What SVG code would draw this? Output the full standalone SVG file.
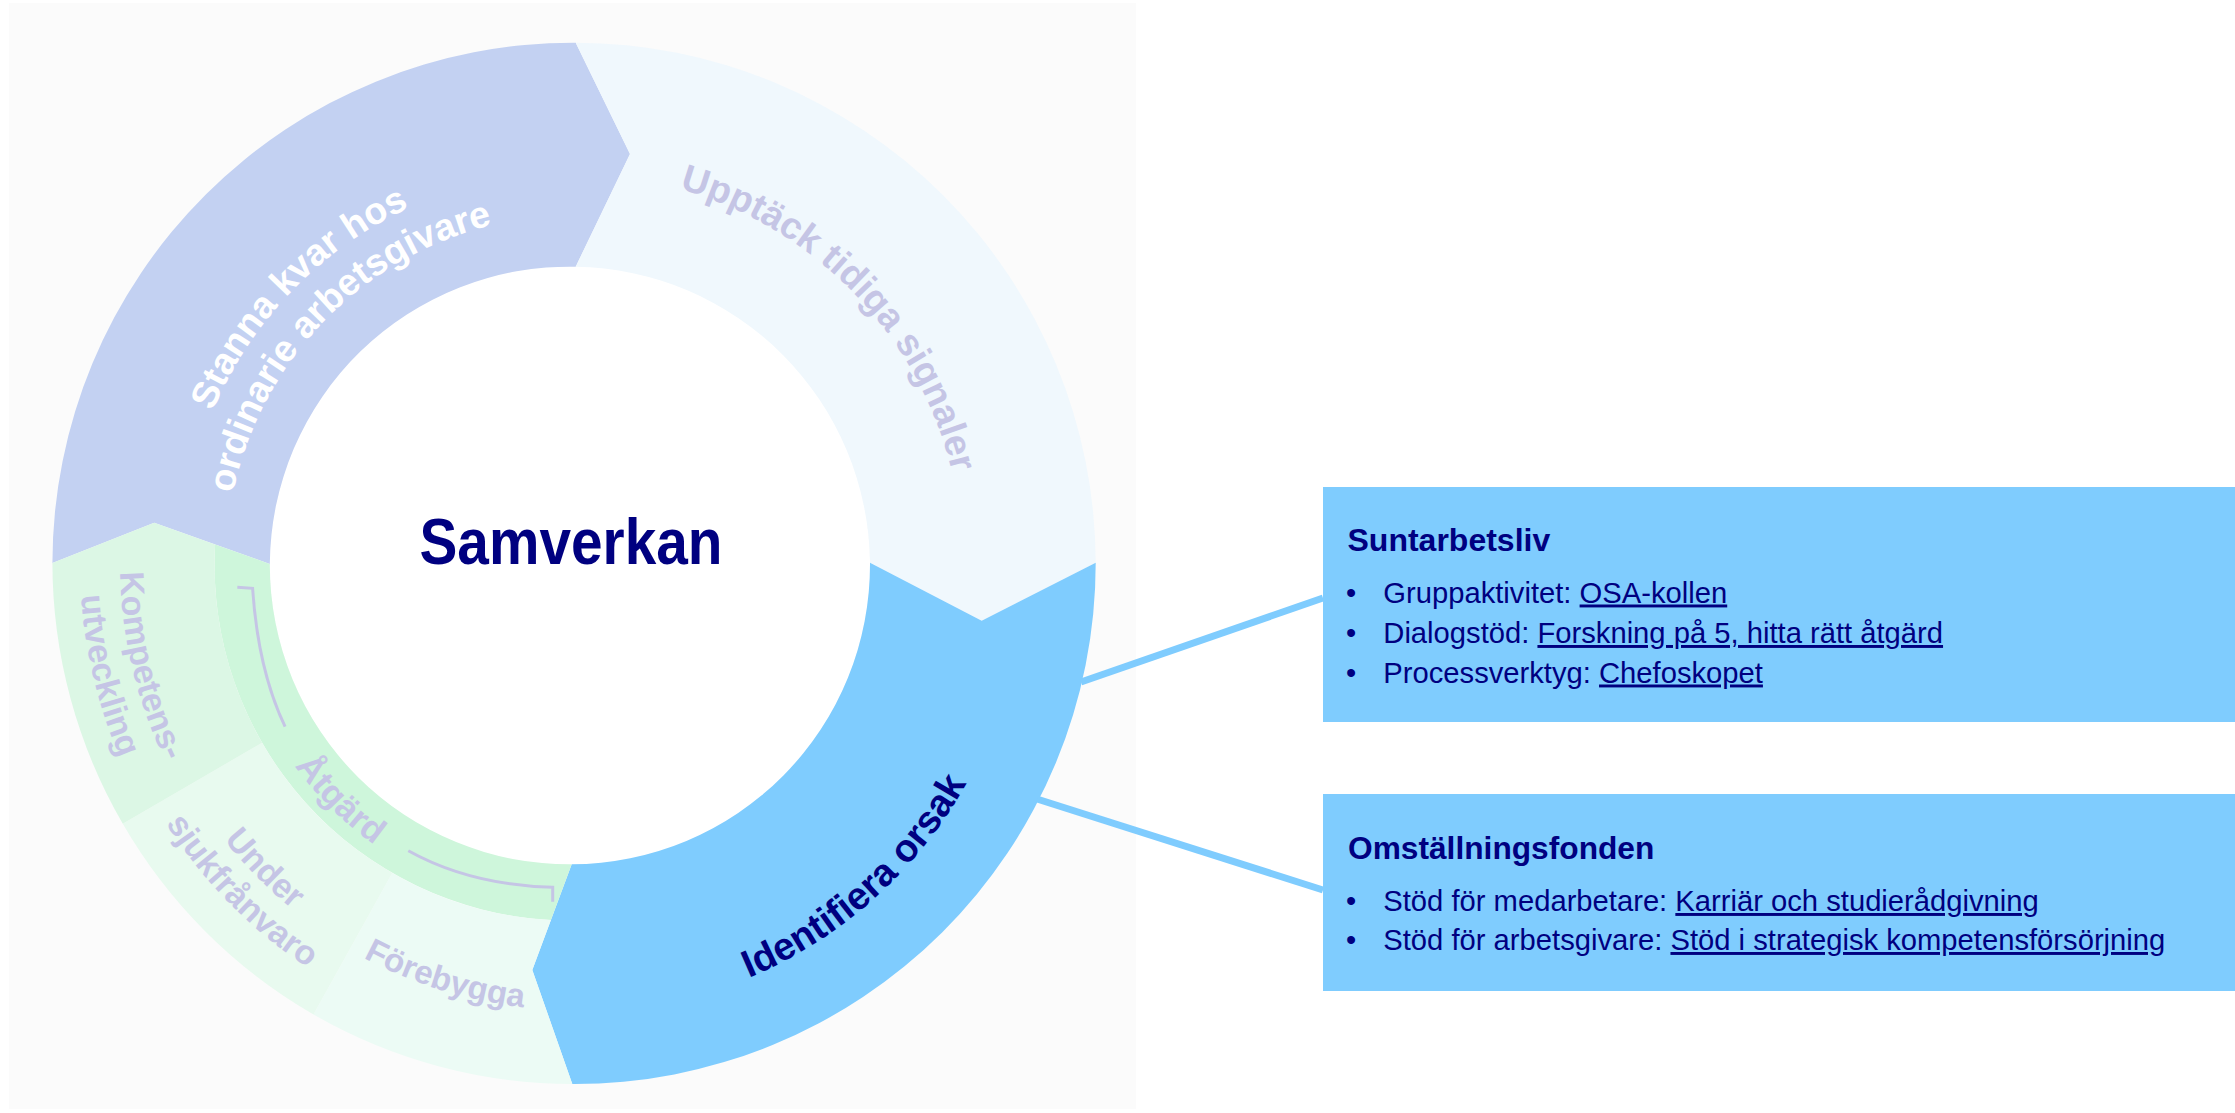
<svg xmlns="http://www.w3.org/2000/svg" width="2235" height="1113" viewBox="0 0 2235 1113">
<style>
text{font-family:'Liberation Sans',Arial,sans-serif}
.b{font-weight:bold}
.lav{fill:#C5C5E5}
.navy{fill:#000080}
.wh{fill:#FFFFFF}
.box{fill:#7FCCFE}
.conn{stroke:#7FCCFE;stroke-width:7;fill:none}
.brk{stroke:#C5C5E5;stroke-width:3;fill:none}
.bt{font-size:29.2px;fill:#000080}
.u{text-decoration:underline}
</style>
<defs>
<path id="pStanna1" d="M 208.0 703.8 A 392 392 0 0 1 701.6 192.7"/>
<path id="pStanna2" d="M 249.1 688.0 A 348 348 0 0 1 687.3 234.3"/>
<path id="pUpp" d="M 448.0 195.3 A 389 389 0 0 1 936.9 703.3"/>
<path id="pIdent" d="M 396.7 976.9 A 450 450 0 0 0 1004.8 433.2"/>
<path id="pKomp1" d="M 291.4 208.0 A 454 454 0 0 0 483.5 1008.2"/>
<path id="pKomp2" d="M 266.5 176.7 A 494 494 0 0 0 475.5 1047.4"/>
<path id="pUnder1" d="M 156.0 407.8 A 446 446 0 0 0 723.6 983.5"/>
<path id="pUnder2" d="M 120.3 394.6 A 484 484 0 0 0 736.4 1019.3"/>
<path id="pFore" d="M 131.0 623.2 A 447 447 0 0 0 904.6 864.1"/>
<path id="pAtg" d="M 249.2 447.0 A 345 345 0 0 0 693.7 886.9"/>
</defs>
<rect x="9" y="3" width="1127" height="1106" fill="#FBFBFB"/>
<circle cx="570" cy="565" r="300" fill="#FFFFFF"/>
<g id="seg-stanna">
<path d="M 52.4 563 A 521 521 0 0 1 575.7 42.7 L 630 154 L 575.7 266.7 A 299.5 299.5 0 0 0 269.8 564 L 154.2 522.7 Z" fill="#C3D1F2"/>
<text class="b wh" font-size="37.5"><textPath href="#pStanna1" startOffset="50%" text-anchor="middle">Stanna kvar hos</textPath></text>
<text class="b wh" font-size="37.5"><textPath href="#pStanna2" startOffset="50%" text-anchor="middle">ordinarie arbetsgivare</textPath></text>
</g>
<g id="seg-upptack">
<path d="M 575.7 42.7 A 521 521 0 0 1 1095.7 562.7 L 981.7 620.7 L 870 562.7 A 299.5 299.5 0 0 0 575.7 266.7 L 630 154 Z" fill="#F0F8FD"/>
<text class="b lav" font-size="37.5"><textPath href="#pUpp" startOffset="50%" text-anchor="middle">Upptäck tidiga signaler</textPath></text>
</g>
<g id="seg-identifiera">
<path d="M 1095.7 562.7 A 521 521 0 0 1 572.3 1084 L 532.3 970 L 571.7 864.3 A 299.5 299.5 0 0 0 870 562.7 L 981.7 620.7 Z" fill="#7FCCFE"/>
<text class="b navy" font-size="38.5"><textPath href="#pIdent" startOffset="50%" text-anchor="middle">Identifiera orsak</textPath></text>
</g>
<g id="seg-atgard">
<path d="M 571.7 864.3 L 550.9 920 A 355.5 355.5 0 0 1 215.1 544.5 L 269.8 564 A 299.5 299.5 0 0 0 571.7 864.3 Z" fill="#CEF6DB"/>
<path class="brk" d="M 237.3 587.3 L 252.6 588.3 Q 258 670 285.1 726.7"/>
<path class="brk" d="M 408.3 850.7 Q 470 885 552.7 887.3 L 552.7 901.7"/>
<text class="b lav" font-size="35"><textPath href="#pAtg" startOffset="50%" text-anchor="middle">Åtgärd</textPath></text>
</g>
<g id="seg-forebygga">
<path d="M 572.3 1084 L 532.3 970 L 550.9 920 A 355.5 355.5 0 0 1 392.25 872.9 L 313.5 1014.5 A 521 521 0 0 0 572.3 1084 Z" fill="#ECFBF5"/>
<text class="b lav" font-size="33"><textPath href="#pFore" startOffset="50%" text-anchor="middle">Förebygga</textPath></text>
</g>
<g id="seg-under">
<path d="M 392.25 872.9 A 355.5 355.5 0 0 1 262.1 742.75 L 122.8 823.8 A 521 521 0 0 0 313.5 1014.5 Z" fill="#E8FAEF"/>
<text class="b lav" font-size="34"><textPath href="#pUnder1" startOffset="50%" text-anchor="middle">Under</textPath></text>
<text class="b lav" font-size="34"><textPath href="#pUnder2" startOffset="50%" text-anchor="middle">sjukfrånvaro</textPath></text>
</g>
<g id="seg-kompetens">
<path d="M 262.1 742.75 A 355.5 355.5 0 0 1 215.1 544.5 L 154.2 522.7 L 52.4 563 A 521 521 0 0 0 122.8 823.8 Z" fill="#DCF7E5"/>
<text class="b lav" font-size="34"><textPath href="#pKomp1" startOffset="50%" text-anchor="middle">Kompetens-</textPath></text>
<text class="b lav" font-size="34"><textPath href="#pKomp2" startOffset="50%" text-anchor="middle">utveckling</textPath></text>
</g>
<g id="center">
<text class="b navy" x="571" y="563.5" font-size="64" text-anchor="middle" textLength="303" lengthAdjust="spacingAndGlyphs">Samverkan</text>
</g>
<g id="connectors">
<line class="conn" x1="1081" y1="682" x2="1323" y2="598"/>
<line class="conn" x1="1037" y1="799" x2="1323" y2="890"/>
</g>
<g id="box-suntarbetsliv">
<rect class="box" x="1323" y="487" width="912" height="235"/>
<text class="b navy" x="1347.5" y="550.7" font-size="32">Suntarbetsliv</text>
<text class="bt" x="1346" y="602.5">•</text>
<text class="bt" x="1383.3" y="602.5">Gruppaktivitet: <tspan class="u">OSA-kollen</tspan></text>
<text class="bt" x="1346" y="643">•</text>
<text class="bt" x="1383.3" y="643">Dialogstöd: <tspan class="u">Forskning på 5, hitta rätt åtgärd</tspan></text>
<text class="bt" x="1346" y="682.5">•</text>
<text class="bt" x="1383.3" y="682.5">Processverktyg: <tspan class="u">Chefoskopet</tspan></text>
</g>
<g id="box-omstallningsfonden">
<rect class="box" x="1323" y="794" width="912" height="197"/>
<text class="b navy" x="1348" y="859" font-size="31.7">Omställningsfonden</text>
<text class="bt" x="1346" y="911">•</text>
<text class="bt" x="1383.3" y="911">Stöd för medarbetare: <tspan class="u">Karriär och studierådgivning</tspan></text>
<text class="bt" x="1346" y="950">•</text>
<text class="bt" x="1383.3" y="950">Stöd för arbetsgivare: <tspan class="u">Stöd i strategisk kompetensförsörjning</tspan></text>
</g>
</svg>
